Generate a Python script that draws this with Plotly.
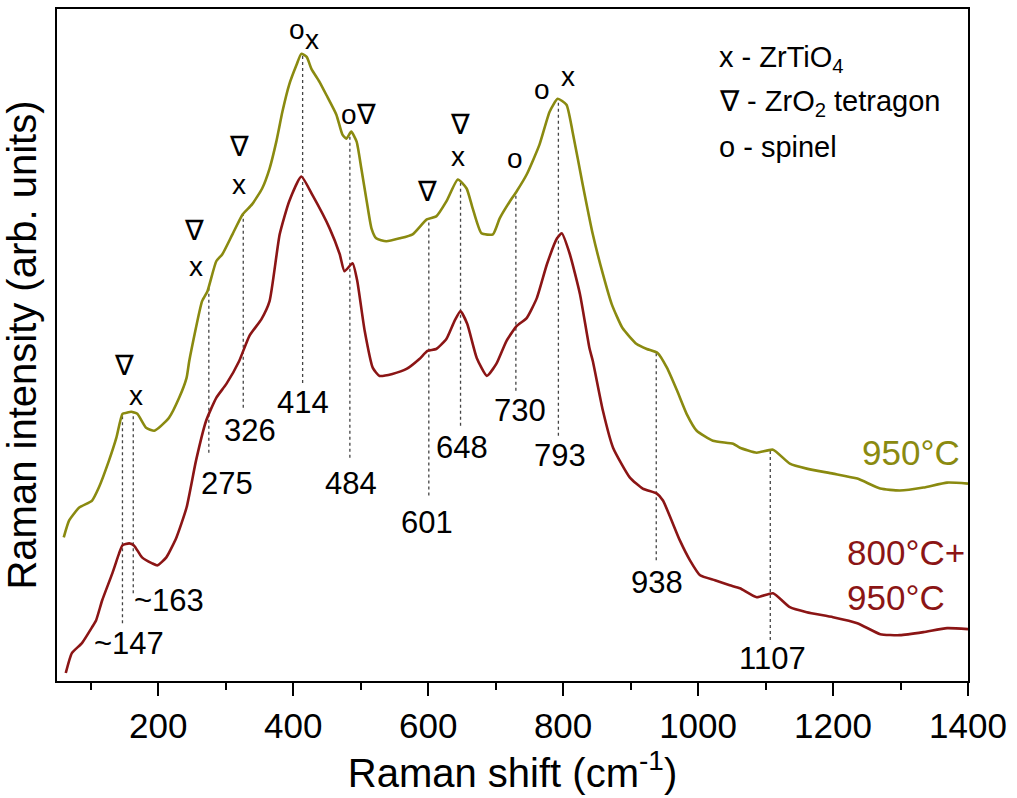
import numpy as np
import plotly.graph_objects as go

# ---- data (Raman shift in cm^-1, intensity in arbitrary units) ----
green_x = [60, 68, 83, 102, 112, 127, 138, 147, 153, 160, 169, 182, 194, 201, 216, 231, 242, 246,
           265, 273, 286, 295, 310, 325, 339, 354, 365, 375, 384, 394, 405, 412, 420, 427, 439,
           449, 464, 473, 479, 486, 494, 501, 509, 516, 523, 538, 558, 577, 598, 612, 627, 644,
           657, 666, 679, 696, 706, 721, 731, 746, 765, 780, 792, 805, 814, 829, 844, 859, 872,
           888, 909, 924, 940, 954, 969, 983, 998, 1022, 1052, 1062, 1087, 1111, 1136, 1161,
           1200, 1236, 1270, 1299, 1334, 1369, 1400]
green_y = [144, 161, 174, 181, 194, 221, 244, 268, 269, 270, 268, 254, 251, 254, 264, 284, 304, 321,
           381, 391, 421, 428, 448, 468, 478, 494, 514, 541, 571, 598, 618, 629, 626, 614, 601,
           588, 568, 548, 544, 551, 541, 514, 481, 454, 444, 441, 444, 448, 463, 466, 481, 503,
           494, 474, 449, 448, 464, 481, 491, 508, 538, 571, 584, 578, 551, 498, 448, 408, 378,
           354, 338, 333, 329, 314, 291, 268, 251, 241, 238, 234, 229, 232, 218, 213,
           208, 203, 193, 191, 194, 199, 198]

red_x = [63, 72, 87, 102, 108, 117, 132, 142, 147, 157, 164, 176, 191, 199, 212, 227, 242, 256,
         271, 286, 301, 320, 335, 353, 365, 380, 394, 412, 428, 454, 469, 476, 488, 495, 506,
         518, 528, 547, 568, 587, 599, 612, 627, 639, 648, 658, 672, 687, 701, 716, 731, 746,
         761, 776, 791, 798, 810, 825, 839, 844, 859, 874, 899, 918, 939, 948, 973, 988, 1003,
         1025, 1047, 1062, 1087, 1111, 1136, 1161, 1200, 1236, 1270, 1299, 1334, 1369, 1400]
red_y = [8, 28, 38, 54, 61, 81, 108, 128, 136, 138, 136, 124, 118, 116, 124, 144, 174, 221,
         261, 284, 298, 321, 346, 363, 381, 448, 481, 506, 488, 454, 428, 411, 419, 401, 351,
         314, 306, 308, 313, 323, 331, 333, 343, 361, 371, 358, 324, 306, 318, 341, 356, 364,
         384, 418, 444, 449, 428, 388, 334, 321, 271, 234, 204, 193, 188, 181, 141, 121, 106,
         101, 96, 93, 84, 88, 74, 69, 64, 58, 47, 46, 49, 53, 52]

# marked peaks and their value labels
peak_pos = [147, 163, 275, 326, 414, 484, 601, 648, 730, 793, 938, 1107]
peak_text = ["~147", "~163", "275", "326", "414", "484", "601", "648", "730", "793", "938", "1107"]

# phase symbols: (text, wavenumber, intensity)
sym_text = ["∇", "x", "∇", "x", "∇", "x", "o", "x", "o∇", "∇", "∇", "x", "o", "o", "x"]
sym_x = [150, 167, 253, 256, 320, 320, 406, 428, 497, 598, 647, 644, 728, 768, 807]
sym_y = [316, 286, 452, 416, 536, 498, 653, 643, 568, 491, 558, 526, 524, 593, 606]

legend_lines = ["x - ZrTiO<sub>4</sub>", "∇ - ZrO<sub>2</sub> tetragon", "o - spinel"]

x_ticks = [200, 400, 600, 800, 1000, 1200, 1400]

# ---- layout helpers (positions of labels) ----
line_bottom = [58, 88, 229, 274, 299, 224, 186, 256, 291, 246, 121, 41]
label_xy = [(157, 38), (216, 81), (302, 198), (336, 251), (414, 279), (485, 198),
            (599, 159), (650, 234), (736, 271), (795, 226), (939, 99), (1110, 23)]

GREEN = "#8a8a10"
RED = "#8b1515"
FONT = "Liberation Sans, Arial, sans-serif"

fig = go.Figure()
fig.add_trace(go.Scatter(x=green_x, y=green_y, mode="lines",
                         line=dict(color=GREEN, width=2.6, shape="spline", smoothing=0.5),
                         showlegend=False))
fig.add_trace(go.Scatter(x=red_x, y=red_y, mode="lines",
                         line=dict(color=RED, width=2.6, shape="spline", smoothing=0.5),
                         showlegend=False))

shapes = []
annotations = []
for p, txt, yb, (lx, ly) in zip(peak_pos, peak_text, line_bottom, label_xy):
    ytop = float(np.interp(p, green_x, green_y))
    shapes.append(dict(type="line", xref="x", yref="y", x0=p, x1=p, y0=yb, y1=ytop,
                       line=dict(color="#444444", width=1.3, dash="dot"), layer="below"))
    annotations.append(dict(x=lx, y=ly, xref="x", yref="y", text=txt, showarrow=False,
                            font=dict(family=FONT, size=31, color="black")))

for t, sx, sy in zip(sym_text, sym_x, sym_y):
    annotations.append(dict(x=sx, y=sy, xref="x", yref="y", text=t, showarrow=False,
                            font=dict(family=FONT, size=28, color="black")))

for i, t in enumerate(legend_lines):
    annotations.append(dict(x=1028, y=624 - i * 44, xref="x", yref="y", text=t,
                            showarrow=False, xanchor="left",
                            font=dict(family=FONT, size=29, color="black")))

annotations.append(dict(x=1391, y=229, xref="x", yref="y", text="950°C", showarrow=False,
                        xanchor="right", font=dict(family=FONT, size=35, color=GREEN)))
annotations.append(dict(x=1218, y=129, xref="x", yref="y", text="800°C+", showarrow=False,
                        xanchor="left", font=dict(family=FONT, size=35, color=RED)))
annotations.append(dict(x=1218, y=84, xref="x", yref="y", text="950°C", showarrow=False,
                        xanchor="left", font=dict(family=FONT, size=35, color=RED)))

fig.update_layout(
    width=1017, height=798,
    margin=dict(l=57, r=49, t=7, b=117),
    paper_bgcolor="white", plot_bgcolor="white",
    shapes=shapes, annotations=annotations,
    font=dict(family=FONT, color="black"),
    xaxis=dict(range=[50, 1400], tickvals=x_ticks, ticks="outside", ticklen=13, tickwidth=2,
               tickcolor="black", showline=True, linecolor="black", linewidth=2, mirror=True,
               showgrid=False, zeroline=False, tickfont=dict(size=35, family=FONT),
               minor=dict(dtick=100, tick0=0, ticks="outside", ticklen=7, tickwidth=2,
                          tickcolor="black", showgrid=False),
               title=dict(text="Raman shift (cm<sup>-1</sup>)", font=dict(size=40, family=FONT),
                          standoff=4)),
    yaxis=dict(range=[0, 674], showticklabels=False, ticks="", showline=True,
               linecolor="black", linewidth=2, mirror=True, showgrid=False, zeroline=False,
               title=dict(text="Raman intensity (arb. units)", font=dict(size=40, family=FONT),
                          standoff=8)),
)

fig.write_html("out.html")
